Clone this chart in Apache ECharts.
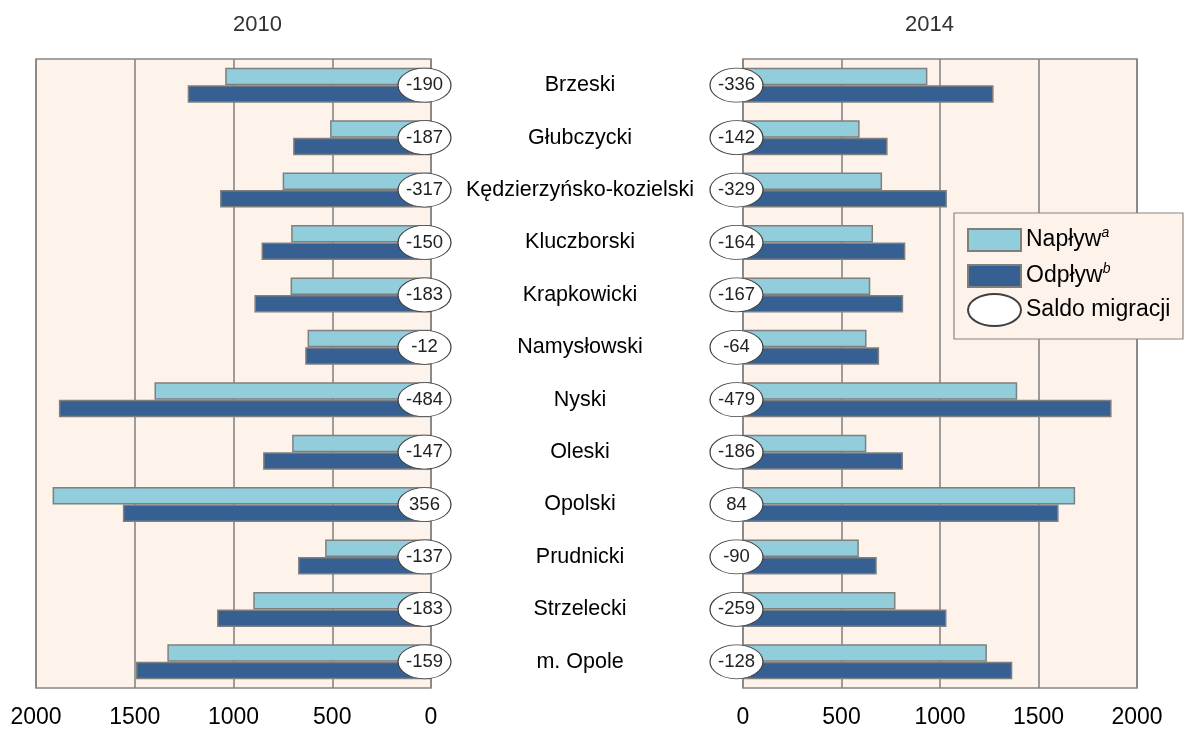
<!DOCTYPE html>
<html><head><meta charset="utf-8">
<script src="https://cdn.jsdelivr.net/npm/echarts@6/dist/echarts.min.js"></script>
<style>html,body{margin:0;padding:0;background:#fff}#c{width:1185px;height:729px}</style>
</head><body><div id="c"></div>
<script>
const categories = ['Brzeski','Głubczycki','Kędzierzyńsko-kozielski','Kluczborski','Krapkowicki','Namysłowski','Nyski','Oleski','Opolski','Prudnicki','Strzelecki','m. Opole'];
const naplyw2010 = [1042,511,751,708,711,625,1400,703,1916,536,900,1335];
const odplyw2010 = [1232,698,1068,858,894,637,1884,850,1560,673,1083,1494];
const saldo2010  = [-190,-187,-317,-150,-183,-12,-484,-147,356,-137,-183,-159];
const naplyw2014 = [936,592,706,660,646,627,1392,626,1686,588,774,1238];
const odplyw2014 = [1272,734,1035,824,813,691,1871,812,1602,679,1033,1367];
const saldo2014  = [-336,-142,-329,-164,-167,-64,-479,-186,84,-90,-259,-128];
const years = ['2010','2014'];
const seriesNames = ['Napływ','Odpływ','Saldo migracji'];

const FONT = 'Liberation Sans, Arial, sans-serif';
const PEACH = '#FDF3EA';
const GRIDC = '#868686';
const C_NAP = '#92CDDC';
const C_ODP = '#366092';

const chart = echarts.init(document.getElementById('c'));

function xAxisFor(idx, inverse) {
  return {
    type: 'value', gridIndex: idx, min: 0, max: 2000, interval: 500, inverse: inverse,
    axisLine: {show: false}, axisTick: {show: false},
    splitLine: {show: true, lineStyle: {color: GRIDC, width: 1.6}},
    axisLabel: {fontFamily: FONT, fontSize: 23, color: '#000', margin: 18, formatter: v => String(v)}
  };
}
function yAxisFor(idx, showLabels) {
  return {
    type: 'category', gridIndex: idx, data: categories, inverse: true,
    position: 'right',
    axisLine: {show: false}, axisTick: {show: false}, splitLine: {show: false},
    axisLabel: showLabels ? {show: true, align: 'center', margin: 149, fontFamily: FONT, fontSize: 21.5, color: '#000'} : {show: false}
  };
}
function barSeries(name, data, idx, color) {
  return {
    type: 'bar', name: name, xAxisIndex: idx, yAxisIndex: idx, data: data,
    barWidth: 17.5, barGap: '0%',
    itemStyle: {color: color, borderColor: '#7F7F7F', borderWidth: 1.5},
    emphasis: {disabled: true}, z: 2
  };
}
function saldoSeries(saldo, idx) {
  return {
    type: 'scatter', name: seriesNames[2], xAxisIndex: idx, yAxisIndex: idx,
    data: saldo.map((s, i) => [0, i, s]),
    encode: {x: 0, y: 1},
    symbol: 'circle', symbolSize: [53, 34], symbolOffset: [-6.5, 0],
    clip: false, z: 5,
    itemStyle: {color: '#fff', borderColor: '#404040', borderWidth: 1, opacity: 1},
    label: {show: true, position: 'inside', formatter: p => String(p.value[2]), fontFamily: FONT, fontSize: 18.5, color: '#222'},
    emphasis: {disabled: true}
  };
}

const supRich = {
  n: {fontFamily: FONT, fontSize: 23, color: '#000'},
  sup: {fontFamily: FONT, fontSize: 14, fontStyle: 'italic', color: '#000', padding: [0, 0, 14, 0]}
};

const option = {
  animation: false,
  backgroundColor: '#fff',
  title: [
    {text: years[0], left: 233, top: 14, padding: 0, textStyle: {fontFamily: FONT, fontSize: 22, fontWeight: 'normal', color: '#333'}},
    {text: years[1], left: 905, top: 14, padding: 0, textStyle: {fontFamily: FONT, fontSize: 22, fontWeight: 'normal', color: '#333'}}
  ],
  grid: [
    {left: 36, width: 395, top: 59, bottom: 39, show: true, backgroundColor: PEACH, borderColor: GRIDC, borderWidth: 1.6, containLabel: false},
    {left: 743, width: 394, top: 59, bottom: 39, show: true, backgroundColor: PEACH, borderColor: GRIDC, borderWidth: 1.6, containLabel: false}
  ],
  xAxis: [xAxisFor(0, true), xAxisFor(1, false)],
  yAxis: [yAxisFor(0, true), yAxisFor(1, false)],
  legend: [
    {
      data: [seriesNames[0], seriesNames[1]], orient: 'vertical', left: 967, top: 226, padding: 0,
      itemWidth: 53, itemHeight: 22, itemGap: 10, icon: 'rect', z: 10,
      selectedMode: false,
      formatter: n => '{n|' + n + '}{sup|' + (n === seriesNames[0] ? 'a' : 'b') + '}',
      textStyle: {fontFamily: FONT, fontSize: 23, color: '#000', rich: supRich}
    },
    {
      data: [seriesNames[2]], orient: 'vertical', left: 967, top: 293, padding: 0,
      itemWidth: 53, itemHeight: 32, z: 10, selectedMode: false,
      icon: 'path://M0,16A26.5,16,0,1,1,53,16A26.5,16,0,1,1,0,16Z',
      textStyle: {fontFamily: FONT, fontSize: 23, color: '#000'}
    }
  ],
  graphic: [
    {type: 'rect', z: 9, shape: {x: 954, y: 213, width: 229, height: 126}, style: {fill: PEACH, stroke: GRIDC, lineWidth: 1.2}}
  ],
  series: [
    barSeries(seriesNames[0], naplyw2010, 0, C_NAP),
    barSeries(seriesNames[1], odplyw2010, 0, C_ODP),
    barSeries(seriesNames[0], naplyw2014, 1, C_NAP),
    barSeries(seriesNames[1], odplyw2014, 1, C_ODP),
    saldoSeries(saldo2010, 0),
    saldoSeries(saldo2014, 1)
  ]
};
chart.setOption(option);
</script>
</body></html>
